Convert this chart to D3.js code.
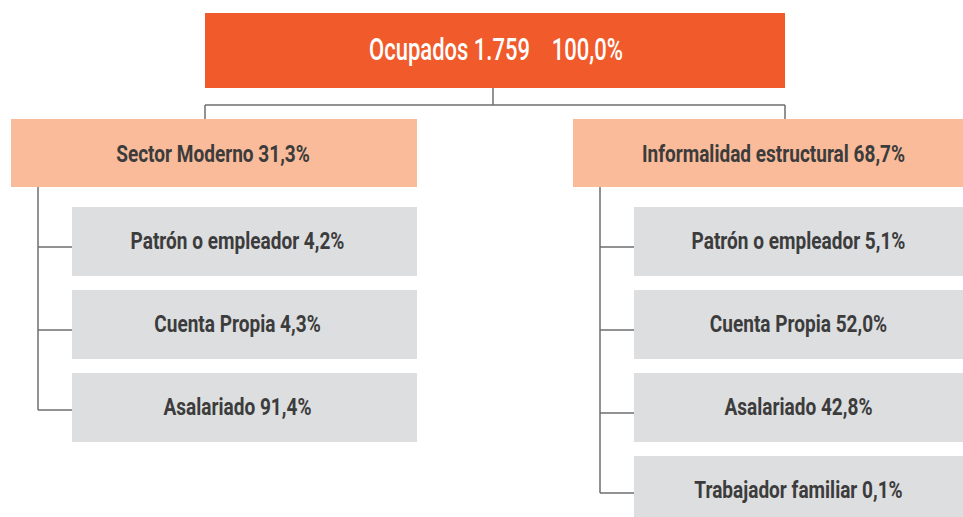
<!DOCTYPE html>
<html>
<head>
<meta charset="utf-8">
<script src="https://cdn.jsdelivr.net/npm/d3@7"></script>
<style>
  body { margin: 0; background: #fff; }
  svg text { font-family: Roboto, "Noto Sans", sans-serif; }
</style>
</head>
<body>
<div id="wrapper"></div>
<script>
// data
let rootLabel = 'Ocupados 1.759';
let rootShare = '100,0%';
let sectors = ['Sector Moderno', 'Informalidad estructural'];
let sectorShares = ['31,3%', '68,7%'];
let leafNames = [
    ['Patrón o empleador', 'Cuenta Propia', 'Asalariado'],
    ['Patrón o empleador', 'Cuenta Propia', 'Asalariado', 'Trabajador familiar']
];
let leafShares = [
    ['4,2%', '4,3%', '91,4%'],
    ['5,1%', '52,0%', '42,8%', '0,1%']
];

let width = 963, height = 517;
let colors = { root: '#F15A2B', sector: '#F9BB99', leaf: '#DDDEE0', line: '#6E6E6E', text: '#3C3C3C' };

let svg = d3.select('#wrapper').append('svg')
    .attr('width', width).attr('height', height);

// scales
let sectorX = d3.scaleOrdinal().domain(sectors).range([11, 573]);
let sectorW = d3.scaleOrdinal().domain(sectors).range([406, 403]); // right box runs off the page
let leafY = d3.scaleBand().domain([0, 1, 2, 3]).range([207, 525]).paddingInner(14 / 83).paddingOuter(0);
let trunkOffset = 27, leafOffset = 61;
let leafTextShift = [-7, 0];

// the original uses a condensed face: squeeze the text horizontally
function condensed(sel, cx, baseline, k) {
    sel.attr('x', 0).attr('y', 0).attr('text-anchor', 'middle')
       .attr('transform', (d, i) => 'translate(' + cx + ',' + (typeof baseline == 'function' ? baseline(d, i) : baseline) + ') scale(' + k + ',1)');
}

let lines = svg.append('g').attr('stroke', colors.line).attr('stroke-width', 1.5).attr('fill', 'none');

// root
let root = { x: 205, y: 13, w: 580, h: 75 };
let busY = 105;
lines.append('line').attr('x1', root.x + 288).attr('x2', root.x + 288).attr('y1', root.y + root.h).attr('y2', busY);
lines.append('line').attr('x1', root.x).attr('x2', root.x + root.w).attr('y1', busY).attr('y2', busY);
[root.x, root.x + root.w].forEach(x => {
    lines.append('line').attr('x1', x).attr('x2', x).attr('y1', busY).attr('y2', 119);
});

let rootG = svg.append('g');
rootG.append('rect').attr('x', root.x).attr('y', root.y).attr('width', root.w).attr('height', root.h).attr('fill', colors.root);
let rootText = rootG.append('text')
    .attr('fill', '#fff').style('font-size', '31px').style('font-weight', 500)
    .attr('xml:space', 'preserve')
    .text(rootLabel + '    ' + rootShare);
let kRoot = 254 / rootText.node().getComputedTextLength();
condensed(rootText, root.x + root.w / 2 + 1, root.y + 46.5, kRoot);

// measure the face once for the smaller labels
let probe = svg.append('text').style('font-size', '24px').style('font-weight', 'bold')
    .text(leafNames[0][0] + ' ' + leafShares[0][0]);
let k = 214 / probe.node().getComputedTextLength();
probe.remove();

// sectors + leaves
sectors.forEach((s, si) => {
    let x0 = sectorX(s), w = sectorW(s);
    let g = svg.append('g').classed('sector', true);
    g.append('rect').attr('x', x0).attr('y', 119).attr('width', w).attr('height', 68).attr('fill', colors.sector);
    let st = g.append('text')
        .attr('fill', colors.text).style('font-size', '24px').style('font-weight', 'bold')
        .text(s + ' ' + sectorShares[si]);
    condensed(st, x0 + w / 2 - 1, 119 + 43, k);

    let leaves = leafNames[si].map((n, i) => ({ name: n, share: leafShares[si][i], i: i }));
    let trunkX = x0 + trunkOffset;
    let leafX = x0 + leafOffset;
    let leafW = si == 0 ? 345 : width - leafX;
    let lastI = leaves.length - 1;

    lines.append('line').attr('x1', trunkX).attr('x2', trunkX)
        .attr('y1', 187).attr('y2', leafY(lastI) + 37);

    let lg = svg.selectAll('.leaf-' + si).data(leaves).enter().append('g').attr('class', 'leaf-' + si);
    lg.append('line')
        .attr('x1', trunkX).attr('x2', leafX)
        .attr('y1', d => leafY(d.i) + (d.i == lastI ? 37 : 40))
        .attr('y2', d => leafY(d.i) + (d.i == lastI ? 37 : 40))
        .attr('stroke', colors.line).attr('stroke-width', 1.5);
    lg.append('rect')
        .attr('x', leafX).attr('y', d => leafY(d.i))
        .attr('width', leafW).attr('height', leafY.bandwidth())
        .attr('fill', colors.leaf);
    let lt = lg.append('text')
        .attr('fill', colors.text).style('font-size', '24px').style('font-weight', 'bold')
        .text(d => d.name + ' ' + d.share);
    condensed(lt, leafX + leafW / 2 + leafTextShift[si], d => leafY(d.i) + 41.5, k);
});
</script>
</body>
</html>
